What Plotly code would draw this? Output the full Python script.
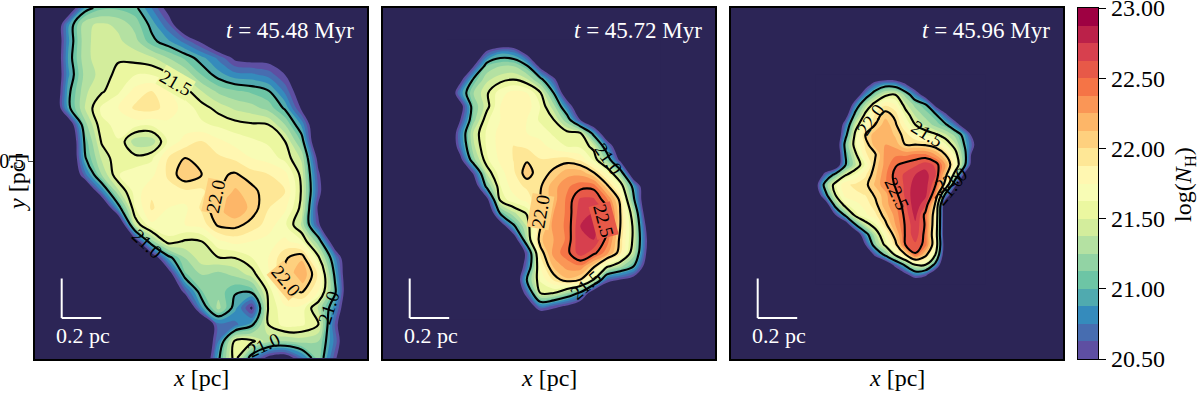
import numpy as np
import plotly.graph_objects as go

W, H = 1200, 393
PANEL_TITLES = ["45.48", "45.72", "45.96"]
LEVEL_LOW, LEVEL_HIGH, LEVEL_STEP = 20.5, 23.0, 0.125
TICKS = [20.5, 21.0, 21.5, 22.0, 22.5, 23.0]
NAVY = "#2c2556"
SPECTRAL = ["#5e4fa2", "#3288bd", "#66c2a5", "#abdda4", "#e6f598", "#ffffbf",
            "#fee08b", "#fdae61", "#f46d43", "#d53e4f", "#9e0142"]

# log N_H, on a coarse grid, top row first
P1 = [
[20,20,20.2,20.9,21.1,21.1,21.05,20.75,20.4,20,20,20,20,20,20,20,20,20,20,20,20],
[20,20,20.85,21.35,21.4,21.35,21.2,20.95,20.65,20.2,20,20,20,20,20,20,20,20,20,20,20],
[20,20,20.85,21.35,21.42,21.4,21.3,21.05,20.9,20.7,20.45,20.1,20,20,20,20,20,20,20,20,20],
[20,20,20.9,21.35,21.42,21.48,21.45,21.4,21.25,21.1,20.92,20.72,20.45,20.4,20.4,20.1,20,20,20,20,20],
[20,20,20.85,21.3,21.42,21.55,21.62,21.62,21.52,21.35,21.12,20.93,20.8,20.78,20.7,20.5,20,20,20,20,20],
[20,20,20.95,21.35,21.48,21.6,21.8,21.88,21.75,21.55,21.38,21.22,21.15,21.1,21.02,20.72,20.3,20,20,20,20],
[20,20,20.95,21.38,21.65,21.75,21.9,21.93,21.82,21.7,21.56,21.45,21.35,21.3,21.2,20.97,20.45,20,20,20,20],
[20,20,20.2,21.2,21.6,21.65,21.68,21.65,21.72,21.68,21.65,21.6,21.55,21.52,21.5,21.25,20.85,20.1,20,20,20],
[20,20,20,21.05,21.52,21.62,21.3,21.3,21.65,21.8,21.88,21.78,21.7,21.65,21.6,21.5,21.1,20.1,20,20,20],
[20,20,20,20.98,21.4,21.6,21.55,21.6,21.88,22,21.95,21.9,21.85,21.75,21.7,21.58,21.35,20.4,20,20,20],
[20,20,20,20.7,21.25,21.62,21.68,21.72,21.9,22.1,22,21.97,22.02,21.93,21.88,21.8,21.45,20.55,20,20,20],
[20,20,20,20,20.75,21.35,21.68,21.85,21.82,21.85,21.85,21.98,22.15,22.05,21.92,21.88,21.48,20.6,20,20,20],
[20,20,20,20,20,20.9,21.62,21.9,21.75,21.72,21.9,22.1,22.25,22.08,21.88,21.78,21.45,20.45,20,20,20],
[20,20,20,20,20,20,21.4,21.72,21.72,21.75,21.8,22.03,22.05,21.95,21.82,21.65,21.35,20.55,20,20,20],
[20,20,20,20,20,20,20.3,21.2,21.58,21.48,21.5,21.72,21.8,21.75,21.7,21.78,21.65,21.15,20.2,20,20],
[20,20,20,20,20,20,20,20.2,20.92,21.25,21.45,21.49,21.5,21.62,21.75,21.98,22.1,21.55,20.8,20,20],
[20,20,20,20,20,20,20,20,20.3,21.1,21.25,21.2,21.28,21.42,21.72,22,22.25,21.85,20.95,20,20],
[20,20,20,20,20,20,20,20,20,20.6,21.12,21.2,21.02,21.05,21.55,21.9,22.02,21.75,21.05,20,20],
[20,20,20,20,20,20,20,20,20,20,20.85,21.3,20.92,20.45,21.52,21.72,21.7,21.35,20.8,20,20],
[20,20,20,20,20,20,20,20,20,20,20,20.7,20.7,20.95,21.5,21.68,21.65,21.5,20.6,20,20],
[20,20,20,20,20,20,20,20,20,20,20,20.75,21.55,21.55,21.3,21.25,21.3,21.25,20.7,20,20],
[20,20,20,20,20,20,20,20,20,20,20,20.95,21.6,20.85,20.4,20.3,20.7,21.2,20.55,20,20],
]
P2 = [
[20,20,20,20,20,20,20,20,20,20,20,20,20,20,20,20,20],
[20,20,20.1,20.6,20.85,20.8,20.4,20,20,20,20,20,20,20,20,20,20],
[20,20,20.5,21.15,21.25,21.25,21.05,20.4,20,20,20,20,20,20,20,20,20],
[20,20.4,21.05,21.35,21.45,21.5,21.4,21.1,20.6,20,20,20,20,20,20,20,20],
[20,20.8,21.25,21.48,21.7,21.8,21.75,21.52,21,20.2,20,20,20,20,20,20,20],
[20,20.35,21.15,21.45,21.75,21.82,21.82,21.62,21.3,20.75,20.1,20,20,20,20,20,20],
[20,20.5,21.2,21.6,21.75,21.78,21.75,21.6,21.5,21.15,20.5,20,20,20,20,20,20],
[20,20.75,21.4,21.65,21.8,21.82,21.75,21.7,21.6,21.55,21.5,20.9,20.1,20,20,20,20],
[20,20.7,21.35,21.65,21.8,21.88,21.85,21.8,21.7,21.62,21.6,21.45,20.8,20.1,20,20,20],
[20,20.4,21.2,21.6,21.78,21.88,21.98,21.88,21.9,21.93,21.85,21.6,21.2,20.4,20,20,20],
[20,20,20.55,21.4,21.7,21.85,22.08,21.9,22.05,22.2,22.2,22.02,21.7,21.2,20.1,20,20],
[20,20,20.2,21.1,21.62,21.82,21.9,21.98,22.2,22.35,22.45,22.45,22.05,21.65,20.9,20.1,20],
[20,20,20,20.4,21.55,21.7,21.8,22,22.2,22.4,22.65,22.65,22.4,21.95,21.05,20.1,20],
[20,20,20,20,21.05,21.35,21.52,22,22.25,22.4,22.7,22.75,22.6,22,21.35,20.2,20],
[20,20,20,20,20.2,20.95,21.4,21.98,22.3,22.4,22.75,22.8,22.55,22,21.45,20.4,20],
[20,20,20,20,20,20.2,21.3,22.1,22.25,22.4,22.75,22.75,22.45,21.95,21.45,20.5,20],
[20,20,20,20,20,20,20.6,21.9,22.3,22.45,22.7,22.55,22.3,21.9,21.35,20.45,20],
[20,20,20,20,20,20,20.7,21.75,22.15,22.3,22.35,22.05,21.55,21.3,21,20.3,20],
[20,20,20,20,20,20,21.05,21.65,21.9,22.1,22,21.5,20.65,20.5,20.35,20,20],
[20,20,20,20,20,20,20.65,21.5,21.5,21.25,20.95,20.2,20,20,20,20,20],
[20,20,20,20,20,20,20.2,20.75,20.6,20.45,20.2,20,20,20,20,20,20],
[20,20,20,20,20,20,20,20,20,20,20,20,20,20,20,20,20],
]
P3 = [
[20,20,20,20,20,20,20,20,20,20,20,20,20,20,20,20,20,20],
[20,20,20,20,20,20.3,20.7,20.9,20.85,20.55,20.2,20,20,20,20,20,20,20],
[20,20,20,20,20.2,20.8,21.2,21.45,21.5,21.2,20.75,20.3,20,20,20,20,20,20],
[20,20,20,20,20.75,21.3,21.6,21.85,21.75,21.42,21.2,21.03,20.4,20,20,20,20,20],
[20,20,20,20.3,21.1,21.55,21.9,22.08,21.95,21.6,21.35,21.2,21.05,20.6,20.1,20,20,20],
[20,20,20,20.7,21.4,21.7,22,22.2,22.03,21.75,21.5,21.35,21.2,21.05,20.7,20.2,20,20],
[20,20,20,20.9,21.55,22,22.2,22.25,22.1,21.93,21.75,21.62,21.53,21.4,21.2,20.85,20.2,20],
[20,20,20.1,21.1,21.6,21.9,22.2,22.25,22.2,22,22,21.98,21.9,21.65,21.4,20.95,20.45,20],
[20,20,20,21,21.45,21.85,21.98,22.3,22.35,22.35,22.4,22.4,22.25,22,21.6,21.05,20.1,20],
[20,20,20.1,20.98,21.35,21.65,22.05,22.3,22.48,22.55,22.6,22.7,22.6,22.25,21.75,21,20,20],
[20,20.65,21.1,21.47,21.65,21.85,22.1,22.35,22.55,22.65,22.75,22.8,22.65,22.1,21.35,20.3,20,20],
[20.3,21.15,21.6,21.85,21.9,21.95,22.15,22.35,22.52,22.65,22.82,22.82,22.52,21.9,20.6,20,20,20],
[20.1,20.9,21.5,21.8,21.85,21.88,22.03,22.2,22.45,22.65,22.85,22.8,22.35,20.9,20,20,20,20],
[20,20.2,21.15,21.6,21.7,21.8,21.95,22.2,22.35,22.6,22.85,22.65,21.95,20.15,20,20,20,20],
[20,20,20.5,21.1,21.58,21.72,21.85,22.08,22.3,22.55,22.8,22.45,21.85,20.1,20,20,20,20],
[20,20,20,20.2,20.98,21.4,21.6,21.95,22.25,22.52,22.72,22.48,21.8,20.1,20,20,20,20],
[20,20,20,20,20.1,20.85,21.35,21.7,22.1,22.52,22.7,22.45,21.75,20.1,20,20,20,20],
[20,20,20,20,20,20.5,21.2,21.55,21.92,22.5,22.6,22.45,21.8,20.2,20,20,20,20],
[20,20,20,20,20,20,20.6,21.1,21.55,21.98,22.48,22.1,21.5,20.15,20,20,20,20],
[20,20,20,20,20,20,20,20.1,20.65,21.08,21.52,21.53,20.9,20,20,20,20,20],
[20,20,20,20,20,20,20,20,20,20.4,20.75,20.6,20.1,20,20,20,20,20],
[20,20,20,20,20,20,20,20,20,20,20,20,20,20,20,20,20,20],
]
# grid: first x, first y (top), spacing, all in pc
GRIDS = [(-0.84, 1.2747, 0.08439), (-0.516, 1.1144, 0.0675), (-0.413, 0.9371, 0.05063)]
XR, YR = [-0.84, 0.841], [-0.5025, 1.2747]

# contour labels: text, pixel x, pixel y, angle, value of the local band
LABELS = [
    ("21.5", 175, 83, 30, 21.6), ("22.0", 215, 197, -78, 22.05), ("22.0", 286, 280, 50, 22.05),
    ("21.0", 147, 243, 42, None), ("21.0", 328, 308, -72, None), ("21.0", 263, 345, -25, None),
    ("21.0", 609, 159, 55, None), ("22.5", 604, 220, 75, 22.55), ("22.0", 540, 212, -80, 22.05),
    ("21.5", 585, 285, -40, None),
    ("22.0", 870, 120, -55, None), ("21.5", 927, 133, 32, None), ("22.5", 897, 193, 65, None),
    ("21.0", 948, 190, -50, None), ("22.0", 950, 180, -30, None),
]

LEFT = [35, 383, 731]
RIGHT = [367, 715, 1063]
TOP, BOT = 8, 359
FONT = "Liberation Serif"


def lerp_hex(t):
    p = t * (len(SPECTRAL) - 1)
    i = min(int(p), len(SPECTRAL) - 2)
    f = p - i
    a = [int(SPECTRAL[i][j:j + 2], 16) for j in (1, 3, 5)]
    b = [int(SPECTRAL[i + 1][j:j + 2], 16) for j in (1, 3, 5)]
    return "rgb(%d,%d,%d)" % tuple(round(u + (v - u) * f) for u, v in zip(a, b))


NB = 20
BANDS = [lerp_hex(k / (NB - 1)) for k in range(NB)]


def band(v):
    return BANDS[int(min(NB - 1, max(0, (v - LEVEL_LOW) / LEVEL_STEP)))]


span = NB + 1
fill_scale = [[0, NAVY], [0.5 / span, NAVY]]
for k, c in enumerate(BANDS):
    fill_scale += [[(k + 0.5) / span, c], [(k + 1.5) / span, c]]
fill_scale[-1][0] = 1.0

bar_scale = []
for k, c in enumerate(BANDS):
    bar_scale += [[k / NB, c], [(k + 1) / NB, c]]

fig = go.Figure()
layout = dict(
    width=W, height=H, margin=dict(l=0, r=0, t=0, b=0, autoexpand=False), paper_bgcolor="white",
    plot_bgcolor=NAVY, font=dict(family=FONT, color="black", size=22), showlegend=False,
)
annos, shapes = [], []
dom_y = [1 - BOT / H, 1 - TOP / H]


def px(x, y):
    return x / W, 1 - y / H


def note(text, x, y, size, color="black", angle=0, xanchor="center", bg=None):
    p = px(x, y)
    a = dict(text=text, x=p[0], y=p[1], xref="paper", yref="paper", showarrow=False, textangle=angle,
             xanchor=xanchor, yanchor="middle", font=dict(size=size, color=color), borderpad=0)
    if bg:
        a["bgcolor"] = bg
    annos.append(a)


for i, (Z, (x0, y0, d)) in enumerate(zip([P1, P2, P3], GRIDS)):
    n = "" if i == 0 else str(i + 1)
    z = np.array(Z, dtype=float)[::-1]
    xs = x0 + d * np.arange(z.shape[1])
    ys = (y0 - d * (z.shape[0] - 1)) + d * np.arange(z.shape[0])
    fig.add_trace(go.Contour(
        x=xs, y=ys, z=z, xaxis="x" + n, yaxis="y" + n, autocontour=False,
        contours=dict(start=LEVEL_LOW, end=LEVEL_HIGH, size=LEVEL_STEP, coloring="fill", showlines=False),
        colorscale=fill_scale, showscale=False, line=dict(width=0, smoothing=1.0), hoverinfo="skip",
    ))
    fig.add_trace(go.Contour(
        x=xs, y=ys, z=z, xaxis="x" + n, yaxis="y" + n, autocontour=False,
        contours=dict(start=21.0, end=22.5, size=0.5, coloring="lines"),
        colorscale=[[0, "black"], [1, "black"]], showscale=False,
        line=dict(width=2.1, smoothing=1.0), hoverinfo="skip",
    ))
    axis = dict(range=XR, domain=[LEFT[i] / W, RIGHT[i] / W], showgrid=False, zeroline=False,
                showline=True, mirror=True, linecolor="black", linewidth=1.5, ticks="",
                showticklabels=False, anchor="y" + n)
    yaxis = dict(range=YR, domain=dom_y, showgrid=False, zeroline=False, showline=True, mirror=True,
                 linecolor="black", linewidth=1.5, anchor="x" + n, showticklabels=False, ticks="")
    if i == 0:
        yaxis.update(ticks="outside", ticklen=5, tickwidth=1.2, tickvals=[0.5], ticktext=["0.5"],
                     showticklabels=True, tickfont=dict(size=20), ticklabeloverflow="allow")
    layout["xaxis" + n] = axis
    layout["yaxis" + n] = yaxis

    # scale bar
    sx = LEFT[i] + 26.7
    for (ax, ay, bx, by) in [(sx, 278.5, sx, 318), (sx, 318, sx + 39.5, 318)]:
        pa, pb = px(ax, ay), px(bx, by)
        shapes.append(dict(type="line", xref="paper", yref="paper", x0=pa[0], y0=pa[1], x1=pb[0], y1=pb[1],
                           line=dict(color="white", width=2)))
    note("0.2 pc", sx + 21, 335, 22, "white")
    note("<i>t</i> = %s Myr" % PANEL_TITLES[i], RIGHT[i] - 12, 31, 23, "white", xanchor="right")
    note("<i>x</i> [pc]", (LEFT[i] + RIGHT[i]) / 2, 378, 24)

for text, lx, ly, ang, val in LABELS:
    note(text, lx, ly, 19, angle=ang, bg=band(val) if val is not None else None)

note("<i>y</i> [pc]", 17, 183, 24, angle=-90)
note("log(<i>N</i><sub>H</sub>)", 1185, 185, 24, angle=-90)

# colour bar
mids = LEVEL_LOW + LEVEL_STEP * (np.arange(NB) + 0.5)
fig.add_trace(go.Heatmap(x=[0], y=mids, z=[[v] for v in mids], zmin=LEVEL_LOW, zmax=LEVEL_HIGH,
                         colorscale=bar_scale, showscale=False, xaxis="x4", yaxis="y4", hoverinfo="skip"))
layout["xaxis4"] = dict(domain=[1078 / W, 1098 / W], range=[-0.5, 0.5], showticklabels=False, ticks="",
                        showgrid=False, zeroline=False, showline=True, mirror=True, linecolor="black",
                        linewidth=1.2, anchor="y4")
layout["yaxis4"] = dict(domain=dom_y, range=[LEVEL_LOW, LEVEL_HIGH], side="right", tickvals=TICKS,
                        ticktext=["%.2f" % t for t in TICKS], ticks="outside", ticklen=7, tickwidth=1.2,
                        tickcolor="black", tickfont=dict(size=24), showgrid=False, zeroline=False,
                        ticklabeloverflow="allow",
                        showline=True, mirror=True, linecolor="black", linewidth=1.2, anchor="x4")
layout["annotations"] = annos
layout["shapes"] = shapes
fig.update_layout(**layout)
fig.write_html("out.html", config={"displayModeBar": False},
               post_script="document.body.style.margin='0';document.body.style.overflow='hidden';")
